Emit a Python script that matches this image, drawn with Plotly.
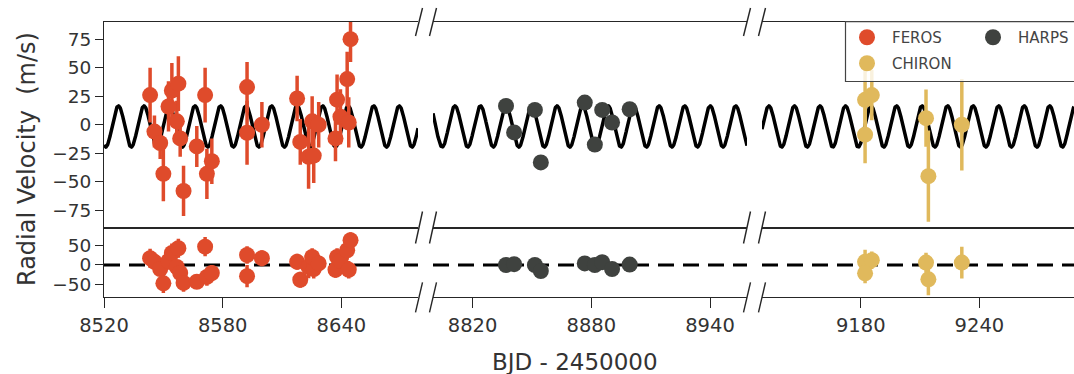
import numpy as np
import plotly.graph_objects as go

W, H = 1074, 374

# ---------------- data ----------------
# FEROS radial velocities (BJD - 2450000, m/s)
feros_bjd = [8543.3, 8545.5, 8548.4, 8550.0, 8552.6, 8554.3, 8556.8, 8557.6, 8558.5, 8560.2,
             8566.9, 8571.1, 8572.0, 8574.5, 8592.3, 8592.3, 8599.8, 8617.6, 8619.2, 8623.4,
             8626.0, 8625.2, 8628.5, 8637.0, 8637.8, 8639.5, 8642.9, 8643.7, 8644.6]
feros_rv = [26, -6, -16, -43, 16, 30, 3, 36, -12, -58,
            -19, 26, -43, -32, 33, -7, 0, 23, -15, -28,
            -27, 3, 0, -12, 22, 7, 40, 2, 75]
feros_err = [24, 14, 14, 24, 22, 24, 18, 24, 16, 22,
             18, 24, 22, 20, 22, 28, 20, 20, 20, 28,
             24, 22, 20, 20, 22, 24, 24, 22, 20]
feros_res = [17, 8, -10, -46, 10, 30, -5, 42, -20, -45,
             -42, 46, -30, -20, 25, -28, 17, 8, -37, -5,
             -10, 20, 4, -12, 20, 10, 37, -12, 62]

# HARPS radial velocities
harps_bjd = [8836.9, 8841.0, 8851.5, 8854.5, 8876.7, 8881.8, 8885.5, 8890.5, 8899.4]
harps_rv = [16.5, -6.7, 13, -33, 19.4, -17.4, 13, 2, 13.6]
harps_err = [1.5, 1.5, 1.5, 1.5, 1.5, 1.5, 1.5, 1.5, 1.5]
harps_res = [0, 2, 0, -15, 4, 0, 7, -10, 1]

# CHIRON radial velocities
chiron_bjd = [9182.2, 9185.6, 9182.2, 9213.0, 9214.2, 9231.1]
chiron_rv = [21.8, 26, -8.7, 5.8, -45, 0]
chiron_err = [30, 22, 25, 25, 40, 40]
chiron_res = [8, 12, -21, 6, -36, 6]

# Keplerian (circular) model parameters
model_period = 12.9
model_k = 18.0
model_t_peak = 8875.6
model_offset = -1.5

x_tick_vals = [8520, 8580, 8640, 8820, 8880, 8940, 9180, 9240]
rv_tick_vals = [-75, -50, -25, 0, 25, 50, 75]
res_tick_vals = [-50, 0, 50]

# ---------------- styling ----------------
FONT = "DejaVu Sans"
TXT = "#333333"
AX = "#262626"
C_FEROS = "#DF4B2B"
C_HARPS = "#3F423F"
C_CHIRON = "#E0B95C"

panel_ranges = [(8520, 8678.7), (8800, 8958.7), (9130.1, 9287.8)]
panel_px = [(104, 418), (433, 747), (762, 1074)]
main_px = (22, 227.5)
res_px = (227.5, 297.3)
main_range = [-90, 90]
res_range = [-81, 94]


def xp(p):
    return p / W


def yp(p):
    return 1 - p / H


fig = go.Figure()

instruments = [
    ("FEROS", C_FEROS, feros_bjd, feros_rv, feros_err, feros_res, 0, "legend"),
    ("HARPS", C_HARPS, harps_bjd, harps_rv, harps_err, harps_res, 1, "legend"),
    ("CHIRON", C_CHIRON, chiron_bjd, chiron_rv, chiron_err, chiron_res, 2, "legend2"),
]

# model curve and zero line in each panel
for i, (lo, hi) in enumerate(panel_ranges):
    t = np.linspace(lo, hi, 1200)
    model = model_offset + model_k * np.cos(2 * np.pi * (t - model_t_peak) / model_period)
    fig.add_trace(go.Scatter(x=t, y=model, mode="lines", line=dict(color="black", width=3.5),
                             xaxis=f"x{i + 1}", yaxis=f"y{i + 1}", showlegend=False, hoverinfo="skip"))
    fig.add_trace(go.Scatter(x=[lo, hi], y=[0, 0], mode="lines",
                             line=dict(color="black", width=3, dash="16px,9px"),
                             xaxis=f"x{i + 4}", yaxis=f"y{i + 4}", showlegend=False, hoverinfo="skip"))

for name, col, bjd, rv, err, res, pi, leg in instruments:
    common = dict(mode="markers", marker=dict(size=16, color=col, line=dict(width=0)))
    fig.add_trace(go.Scatter(x=bjd, y=rv, name=name,
                             error_y=dict(type="data", array=err, color=col, thickness=3.5, width=0),
                             xaxis=f"x{pi + 1}", yaxis=f"y{pi + 1}", legend=leg, **common))
    fig.add_trace(go.Scatter(x=bjd, y=res, name=name, showlegend=False,
                             error_y=dict(type="data", array=err, color=col, thickness=3.5, width=0),
                             xaxis=f"x{pi + 4}", yaxis=f"y{pi + 4}", **common))

layout = dict(
    width=W, height=H,
    margin=dict(l=0, r=0, t=0, b=0, autoexpand=False),
    paper_bgcolor="white", plot_bgcolor="white",
    font=dict(family=FONT, size=19, color=TXT),
)

for i in range(3):
    x0, x1 = panel_px[i]
    dom_x = [xp(x0), xp(x1)]
    base_x = dict(domain=dom_x, range=list(panel_ranges[i]), showline=True, mirror=True,
                  linecolor=AX, linewidth=1.2, showgrid=False, zeroline=False, automargin=False)
    layout[f"xaxis{i + 1}"] = dict(base_x, anchor=f"y{i + 1}", showticklabels=False, ticks="")
    layout[f"xaxis{i + 4}"] = dict(base_x, anchor=f"y{i + 4}", ticks="outside", ticklen=10,
                                   tickwidth=1.2, tickcolor=AX, tickvals=x_tick_vals,
                                   ticktext=[str(v) for v in x_tick_vals],
                                   tickfont=dict(size=19.5, color=TXT))
    first = i == 0
    base_y = dict(showgrid=False, zeroline=False, showline=first, linecolor=AX, linewidth=1.2,
                  showticklabels=first, ticks="outside" if first else "", ticklen=8,
                  tickwidth=1.2, tickcolor=AX, tickfont=dict(size=18.5, color=TXT), automargin=False)
    layout[f"yaxis{i + 1}"] = dict(base_y, anchor=f"x{i + 1}", range=main_range,
                                   domain=[yp(main_px[1]), yp(main_px[0])], tickvals=rv_tick_vals)
    layout[f"yaxis{i + 4}"] = dict(base_y, anchor=f"x{i + 4}", range=res_range,
                                   domain=[yp(res_px[1]), yp(res_px[0])], tickvals=res_tick_vals)

# legend: FEROS / HARPS on the first row, CHIRON below
leg_font = dict(family=FONT, size=15, color="#444444")
layout["legend"] = dict(orientation="h", x=xp(842), y=yp(21), xanchor="left", yanchor="top",
                        entrywidth=71, itemwidth=40, bgcolor="rgba(0,0,0,0)", borderwidth=0,
                        font=leg_font, itemsizing="trace")
layout["legend2"] = dict(orientation="h", x=xp(842), y=yp(47), xanchor="left", yanchor="top",
                         itemwidth=40, bgcolor="rgba(0,0,0,0)", borderwidth=0, font=leg_font,
                         itemsizing="trace")

shapes = [dict(type="rect", xref="paper", yref="paper", x0=xp(845.5), x1=xp(1080),
               y0=yp(81.5), y1=yp(21.7), line=dict(color="#444444", width=1.2),
               fillcolor="rgba(255,255,255,0.8)", layer="above")]

# broken-axis slashes
for cx in [419, 433, 747, 762]:
    for cy, half in [(22, 14), (227.5, 16), (297.3, 15)]:
        shapes.append(dict(type="line", xref="paper", yref="paper",
                           x0=xp(cx - 3.5), y0=yp(cy + half), x1=xp(cx + 3.5), y1=yp(cy - half),
                           line=dict(color=AX, width=1.4), layer="above"))
layout["shapes"] = shapes

layout["annotations"] = [
    dict(text="BJD - 2450000", xref="paper", yref="paper", x=xp(575), y=yp(362),
         xanchor="center", yanchor="middle", showarrow=False, font=dict(size=23, color=TXT)),
    dict(text="Radial Velocity\u00a0 (m/s)", xref="paper", yref="paper", x=xp(27), y=yp(159),
         xanchor="center", yanchor="middle", textangle=-90, showarrow=False,
         font=dict(size=24, color=TXT)),
]

fig.update_layout(**layout)
fig.write_html("out.html")
